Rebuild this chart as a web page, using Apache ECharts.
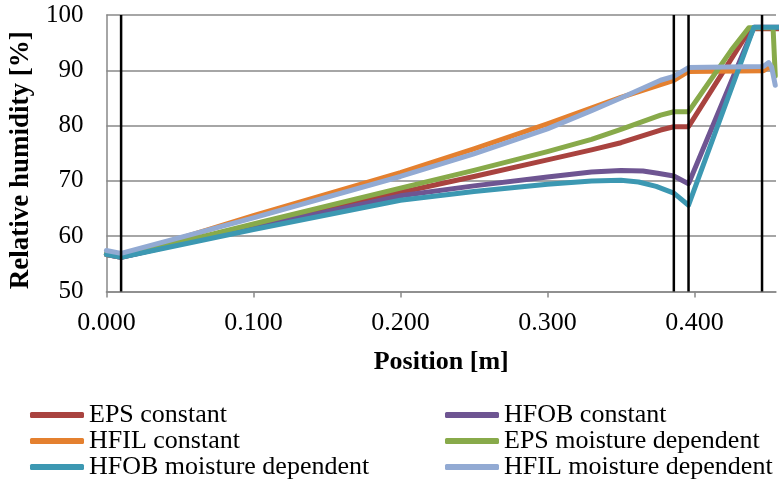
<!DOCTYPE html>
<html>
<head>
<meta charset="utf-8">
<script src="https://cdn.jsdelivr.net/npm/echarts@6/dist/echarts.min.js"></script>
<style>
html,body{margin:0;padding:0;background:#fff;}
#chart{width:780px;height:483px;}
</style>
</head>
<body>
<div id="chart"></div>
<script>
// Series names (legend order)
const seriesNames = [
  'EPS constant', 'HFOB constant', 'HFIL constant',
  'EPS moisture dependent', 'HFOB moisture dependent', 'HFIL moisture dependent'
];
// [position m, relative humidity %]
const epsConstant = [[0,56.7],[0.01,56.2],[0.1,61.8],[0.2,67.9],[0.25,70.8],[0.3,73.8],[0.33,75.6],[0.35,76.9],[0.377,79.2],[0.386,79.8],[0.396,79.8],[0.438,97.5],[0.457,97.5]];
const hfobConstant = [[0,56.7],[0.01,56.2],[0.1,61.6],[0.2,67.3],[0.25,69.1],[0.3,70.7],[0.33,71.6],[0.35,71.9],[0.365,71.8],[0.375,71.4],[0.386,70.9],[0.396,69.5],[0.4405,97.8],[0.457,97.8]];
const hfilConstant = [[0,56.7],[0.01,56.3],[0.1,63.7],[0.2,71.5],[0.25,75.8],[0.3,80.3],[0.35,85.1],[0.386,88.2],[0.396,89.8],[0.447,89.9],[0.4505,90.6],[0.4535,90.0]];
const epsMoisture = [[0,56.8],[0.01,56.3],[0.1,62.2],[0.2,68.7],[0.25,71.9],[0.3,75.3],[0.33,77.5],[0.35,79.3],[0.377,81.9],[0.386,82.5],[0.396,82.5],[0.425,93.6],[0.437,97.7],[0.4535,97.7],[0.455,89.0]];
const hfobMoisture = [[0,56.7],[0.01,56.2],[0.1,61.2],[0.2,66.5],[0.25,68.1],[0.3,69.4],[0.33,70.0],[0.35,70.1],[0.362,69.8],[0.374,69.0],[0.386,67.8],[0.396,65.6],[0.4405,97.8],[0.457,97.8]];
const hfilMoisture = [[0,57.4],[0.01,56.9],[0.1,63.3],[0.2,70.8],[0.25,74.9],[0.3,79.4],[0.33,82.7],[0.35,85.0],[0.377,88.2],[0.386,88.9],[0.396,90.5],[0.447,90.7],[0.4505,91.4],[0.4525,90.6],[0.455,87.3]];
// Layer boundaries (vertical black lines), m
const boundaries = [0.01, 0.386, 0.396, 0.446];
const yRange = [50, 100];

const seriesData = [epsConstant, hfobConstant, hfilConstant, epsMoisture, hfobMoisture, hfilMoisture];
const colors = ['#A9433F', '#6E5592', '#E4802F', '#88AA4A', '#3C98B2', '#92AAD3'];

const chart = echarts.init(document.getElementById('chart'));
const FONT = '"Liberation Serif", "Times New Roman", serif';

const series = seriesNames.map((name, i) => ({
  name: name,
  type: 'line',
  data: seriesData[i],
  showSymbol: false,
  symbol: 'none',
  smooth: false,
  lineStyle: { width: 5, color: colors[i], cap: 'round', join: 'round' },
  itemStyle: { color: colors[i] },
  z: 2 + i,
  animation: false
}));
boundaries.forEach((b, k) => {
  series.push({
    name: 'boundary' + k,
    type: 'line',
    data: [[b, yRange[0]], [b, yRange[1]]],
    showSymbol: false,
    symbol: 'none',
    silent: true,
    lineStyle: { color: '#000', width: 2.5 },
    z: 20,
    animation: false
  });
});

const legendText = { fontFamily: FONT, fontSize: 26, color: '#000', lineHeight: 26 };

chart.setOption({
  animation: false,
  textStyle: { fontFamily: FONT },
  grid: { left: 103.5, top: 15, right: 4, bottom: 191.5, containLabel: false },
  xAxis: {
    type: 'value',
    min: 0,
    max: 0.4555,
    interval: 0.1,
    name: 'Position [m]',
    nameLocation: 'middle',
    nameGap: 58,
    nameTextStyle: { fontFamily: FONT, fontSize: 26, fontWeight: 'bold', color: '#000' },
    axisLine: { show: true, lineStyle: { color: '#898989', width: 1.5 } },
    axisTick: { show: true, length: 6, lineStyle: { color: '#898989', width: 1.5 } },
    axisLabel: {
      fontFamily: FONT, fontSize: 26, color: '#000', margin: 19,
      showMaxLabel: false,
      formatter: v => v.toFixed(3)
    },
    splitLine: { show: false }
  },
  yAxis: {
    type: 'value',
    min: yRange[0],
    max: yRange[1],
    interval: 10,
    name: 'Relative humidity [%]',
    nameLocation: 'middle',
    nameGap: 70,
    nameTextStyle: { fontFamily: FONT, fontSize: 27, fontWeight: 'bold', color: '#000', padding: [0, 14, 0, 0] },
    axisLine: { show: true, lineStyle: { color: '#898989', width: 1.5 } },
    axisTick: { show: false },
    axisLabel: { fontFamily: FONT, fontSize: 25, color: '#000', margin: 23 },
    splitLine: { show: true, lineStyle: { color: '#898989', width: 1.5 } }
  },
  legend: [
    {
      data: [seriesNames[0], seriesNames[2], seriesNames[4]],
      orient: 'vertical', left: 30, top: 402, padding: 0,
      icon: 'roundRect', itemWidth: 54, itemHeight: 6, itemGap: 0,
      textStyle: legendText
    },
    {
      data: [seriesNames[1], seriesNames[3], seriesNames[5]],
      orient: 'vertical', left: 445, top: 402, padding: 0,
      icon: 'roundRect', itemWidth: 54, itemHeight: 6, itemGap: 0,
      textStyle: legendText
    }
  ],
  series: series
});
</script>
</body>
</html>
